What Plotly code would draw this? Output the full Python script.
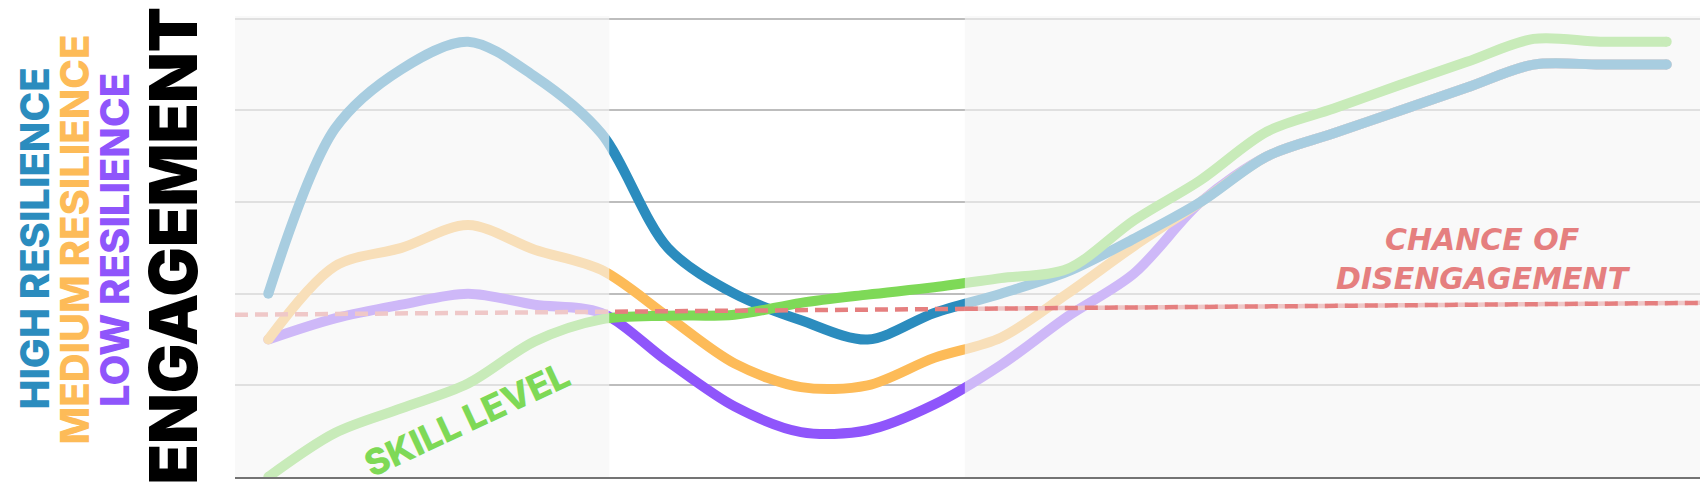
import plotly.graph_objects as go

# ---------------- data ----------------
steps = list(range(22))
high_resilience = [2.0, 3.8, 4.45, 4.75, 4.37, 3.75, 2.5, 2.0, 1.71, 1.5, 1.79,
                   2.0, 2.24, 2.6, 3.0, 3.5, 3.75, 4.0, 4.25, 4.5, 4.5, 4.5]
medium_resilience = [1.5, 2.3, 2.5, 2.75, 2.48, 2.26, 1.75, 1.24, 0.98, 1.0, 1.3,
                     1.52, 2.0, 2.52, 3.0, 3.5, 3.75, 4.0, 4.25, 4.5, 4.5, 4.5]
low_resilience = [1.5, 1.73, 1.88, 2.0, 1.88, 1.79, 1.26, 0.77, 0.49, 0.51, 0.79,
                  1.22, 1.75, 2.22, 3.0, 3.5, 3.75, 4.0, 4.25, 4.5, 4.5, 4.5]
skill_level = [0.0, 0.48, 0.75, 1.02, 1.48, 1.72, 1.76, 1.77, 1.9, 1.99, 2.07,
               2.17, 2.27, 2.8, 3.24, 3.77, 4.02, 4.28, 4.53, 4.78, 4.75, 4.75]
threshold_x = [-0.5, 21.5]
threshold_y = [1.77, 1.9]
faded_spans = [(-0.5, 5.12), (10.46, 21.5)]

# ---------------- style ----------------
W, H = 1702, 489
YTOP = 5.03
ML, MR, MB = 235, 2, 12
MT = 19 - round((YTOP - 5) * (H - 19 - MB) / 5)
BLUE, ORANGE, PURPLE, GREEN, RED = "#2b8cbe", "#fdbb58", "#8f55fb", "#7ed957", "#e57f7f"
FONT = "Inter"
LW = 10

def px_x(p):
    return (p - ML) / (W - ML - MR)

def px_y(p):
    return (H - MB - p) / (H - MT - MB)

fig = go.Figure()
for vals, col in [(low_resilience, PURPLE), (medium_resilience, ORANGE),
                  (high_resilience, BLUE), (skill_level, GREEN)]:
    fig.add_trace(go.Scatter(x=steps, y=vals, mode="lines",
                             line=dict(color=col, width=LW, shape="spline", smoothing=0.9),
                             hoverinfo="skip", showlegend=False))
    # round line caps at both ends
    fig.add_trace(go.Scatter(x=[steps[0], steps[-1]], y=[vals[0], vals[-1]], mode="markers",
                             marker=dict(color=col, size=LW, line=dict(width=0)),
                             hoverinfo="skip", showlegend=False))
fig.add_trace(go.Scatter(x=threshold_x, y=threshold_y, mode="lines",
                         line=dict(color=RED, width=4.5, dash="13px,7px"),
                         hoverinfo="skip", showlegend=False))

shapes = []
for x0, x1 in faded_spans:
    shapes.append(dict(type="rect", xref="x", yref="paper", x0=x0, x1=x1, y0=0, y1=1,
                       fillcolor="rgba(246,246,246,0.62)", line=dict(width=0), layer="above"))
# threshold stays vivid over the right faded span
x0r = faded_spans[1][0]
slope = (threshold_y[1] - threshold_y[0]) / (threshold_x[1] - threshold_x[0])
shapes.append(dict(type="line", xref="x", yref="y", x0=x0r,
                   y0=threshold_y[0] + slope * (x0r - threshold_x[0]),
                   x1=threshold_x[1], y1=threshold_y[1],
                   line=dict(color=RED, width=4.5, dash="13px,7px"), layer="above"))

annotations = [
    dict(text="HIGH RESILIENCE", x=px_x(34.5), y=px_y(239), color=BLUE, size=40, w=800),
    dict(text="MEDIUM RESILIENCE", x=px_x(74), y=px_y(239.5), color=ORANGE, size=40, w=800),
    dict(text="LOW RESILIENCE", x=px_x(114), y=px_y(240), color=PURPLE, size=40, w=800),
    dict(text="ENGAGEMENT", x=px_x(172), y=px_y(245.5), color="#000000", size=66, w=900),
]
anns = []
for a in annotations:
    anns.append(dict(text=a["text"], x=a["x"], y=a["y"], xref="paper", yref="paper",
                     xanchor="center", yanchor="middle", textangle=-90, showarrow=False,
                     font=dict(family=FONT, size=a["size"], color=a["color"], weight=a["w"])))
anns.append(dict(text="<i>CHANCE OF<br>DISENGAGEMENT</i>", x=px_x(1483), y=px_y(259),
                 xref="paper", yref="paper", xanchor="center", yanchor="middle",
                 showarrow=False, align="center",
                 font=dict(family="DejaVu Sans", size=30, color=RED, weight=700)))
anns.append(dict(text="SKILL LEVEL", x=px_x(467), y=px_y(419), xref="paper", yref="paper",
                 xanchor="center", yanchor="middle", textangle=-25, showarrow=False,
                 font=dict(family=FONT, size=36, color=GREEN, weight=800)))

fig.update_layout(
    width=W, height=H, margin=dict(l=ML, r=MR, t=MT, b=MB),
    paper_bgcolor="white", plot_bgcolor="white",
    shapes=shapes, annotations=anns, showlegend=False,
    xaxis=dict(range=[-0.5, 21.5], showgrid=False, zeroline=False, showticklabels=False,
               ticks="", showline=True, linecolor="#747474", linewidth=2, fixedrange=True),
    yaxis=dict(range=[0, YTOP], dtick=1, tick0=0, showgrid=True, gridcolor="#bdbdbd",
               gridwidth=2, zeroline=False, showticklabels=False, ticks="",
               showline=False, fixedrange=True),
)
fig.write_html("out.html", config={"displayModeBar": False},
               post_script="document.body.style.margin='0';document.body.style.overflow='hidden';")
